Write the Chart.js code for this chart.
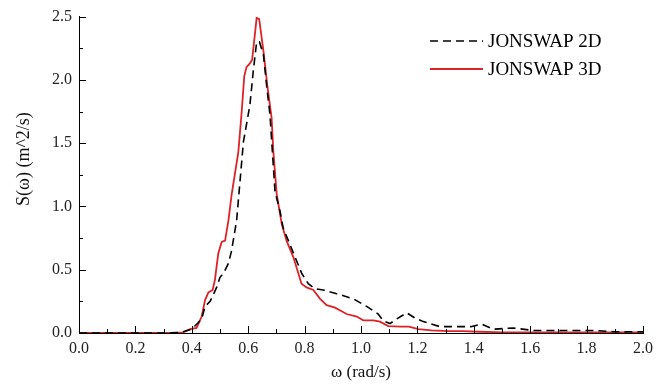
<!DOCTYPE html>
<html>
<head>
<meta charset="utf-8">
<script src="https://cdn.jsdelivr.net/npm/chart.js@4/dist/chart.umd.min.js"></script>
<style>
  body { margin: 0; background: #fff; }
  #plot { display: block; }
</style>
</head>
<body>
<canvas id="plot" width="665" height="385"></canvas>
<script>
var seriesNames = ["JONSWAP 2D", "JONSWAP 3D"];

// omega (rad/s) and S(omega)
var omega2D = [0, 0.30, 0.36, 0.40, 0.435, 0.447, 0.465, 0.488, 0.50, 0.512,
	0.53, 0.541, 0.559, 0.583, 0.606, 0.618, 0.63, 0.64, 0.654, 0.666,
	0.677, 0.695, 0.713, 0.724, 0.748, 0.766, 0.79, 0.813, 0.837, 0.866,
	0.914, 0.973, 1.02, 1.061, 1.079, 1.103, 1.126, 1.162, 1.19, 1.221,
	1.28, 1.33, 1.39, 1.428, 1.469, 1.54, 1.61, 1.68, 1.76, 1.82,
	1.9, 2.0];
var s2D = [0, 0, 0.005, 0.03, 0.11, 0.21, 0.25, 0.36, 0.44, 0.47,
	0.55, 0.65, 0.89, 1.51, 1.80, 2.07, 2.30, 2.30, 2.20, 1.94,
	1.73, 1.12, 0.96, 0.83, 0.70, 0.60, 0.47, 0.39, 0.35, 0.34,
	0.31, 0.27, 0.21, 0.15, 0.095, 0.075, 0.11, 0.16, 0.12, 0.09,
	0.05, 0.05, 0.05, 0.07, 0.03, 0.04, 0.02, 0.02, 0.02, 0.02,
	0.01, 0.01];

var omega3D = [0, 0.34, 0.37, 0.394, 0.417, 0.435, 0.447, 0.459, 0.474, 0.482,
	0.494, 0.506, 0.518, 0.53, 0.541, 0.565, 0.577, 0.586, 0.594, 0.606,
	0.614, 0.63, 0.639, 0.654, 0.668, 0.683, 0.689, 0.701, 0.719, 0.736,
	0.76, 0.778, 0.789, 0.807, 0.831, 0.855, 0.878, 0.908, 0.949, 0.985,
	1.008, 1.044, 1.067, 1.097, 1.14, 1.17, 1.203, 1.25, 1.31, 1.36,
	1.42, 1.5, 1.6, 1.8, 2.0];
var s3D = [0, 0, 0.005, 0.03, 0.04, 0.13, 0.26, 0.32, 0.34, 0.42,
	0.63, 0.72, 0.73, 0.89, 1.09, 1.43, 1.75, 2.03, 2.10, 2.13,
	2.16, 2.49, 2.48, 2.23, 1.95, 1.70, 1.44, 1.10, 0.86, 0.73,
	0.60, 0.47, 0.39, 0.36, 0.34, 0.27, 0.22, 0.20, 0.15, 0.13,
	0.10, 0.10, 0.09, 0.055, 0.05, 0.05, 0.03, 0.02, 0.015, 0.015,
	0.01, 0.005, 0.005, 0.004, 0.004];

var xTicks = [0, 0.2, 0.4, 0.6, 0.8, 1.0, 1.2, 1.4, 1.6, 1.8, 2.0];
var yTicks = [0, 0.5, 1.0, 1.5, 2.0, 2.5];

var serif = "'Liberation Serif', 'Times New Roman', serif";

function pairs(xs, ys) {
	var out = [];
	for (var i = 0; i < xs.length; i++) out.push({x: xs[i], y: ys[i]});
	return out;
}

// inward major + minor ticks, like the original plot
var innerTicks = {
	id: "innerTicks",
	afterDraw: function(chart) {
		var c = chart.ctx, xs = chart.scales.x, ys = chart.scales.y;
		c.save();
		c.strokeStyle = "#000";
		c.lineWidth = 1;
		c.beginPath();
		for (var i = 0; i <= 20; i++) {
			var px = Math.round(xs.getPixelForValue(i * 0.1)) + 0.5;
			var len = i % 2 == 0 ? 7 : 4;
			c.moveTo(px, ys.bottom);
			c.lineTo(px, ys.bottom - len);
		}
		for (var j = 0; j <= 10; j++) {
			var py = Math.round(ys.getPixelForValue(j * 0.25)) + 0.5;
			var l2 = j % 2 == 0 ? 7 : 4;
			c.moveTo(xs.left, py);
			c.lineTo(xs.left + l2, py);
		}
		c.stroke();
		c.restore();
	}
};

// legend in the upper right corner
var cornerLegend = {
	id: "cornerLegend",
	afterDraw: function(chart) {
		var c = chart.ctx;
		c.save();
		c.font = "19px " + serif;
		c.textBaseline = "middle";
		c.textAlign = "left";
		chart.data.datasets.forEach(function(ds, i) {
			var y = 41 + i * 28;
			c.strokeStyle = ds.borderColor;
			c.lineWidth = ds.borderWidth;
			c.setLineDash(ds.borderDash || []);
			c.beginPath();
			c.moveTo(430, y);
			c.lineTo(483, y);
			c.stroke();
			c.setLineDash([]);
			c.fillStyle = "#000";
			c.fillText(ds.label, 488, y + 1);
		});
		c.restore();
	}
};

var ctx = document.getElementById("plot").getContext("2d");
var chart = new Chart(ctx, {
	type: "line",
	data: {
		datasets: [
			{
				label: seriesNames[0],
				data: pairs(omega2D, s2D),
				borderColor: "#000000",
				borderWidth: 1.6,
				borderDash: [8, 5],
				pointRadius: 0,
				tension: 0,
				fill: false
			},
			{
				label: seriesNames[1],
				data: pairs(omega3D, s3D),
				borderColor: "#dc2328",
				borderWidth: 1.8,
				pointRadius: 0,
				tension: 0,
				fill: false
			}
		]
	},
	options: {
		responsive: false,
		animation: false,
		devicePixelRatio: 1,
		layout: {padding: {left: 0, right: 22, top: 15, bottom: 0}},
		plugins: {
			legend: {display: false},
			tooltip: {enabled: false}
		},
		scales: {
			x: {
				type: "linear",
				min: 0,
				max: 2,
				afterBuildTicks: function(scale) {
					scale.ticks = xTicks.map(function(v) { return {value: v}; });
				},
				afterFit: function(scale) { scale.height = 52; },
				grid: {display: false, drawTicks: false},
				border: {display: true, color: "#000", width: 1},
				ticks: {
					color: "#222",
					font: {family: serif, size: 16},
					padding: 6,
					maxRotation: 0,
					callback: function(v) { return Number(v).toFixed(1); }
				},
				title: {
					display: true,
					text: "\u03c9 (rad/s)",
					color: "#111",
					font: {family: serif, size: 17},
					padding: {top: 0, bottom: 2}
				}
			},
			y: {
				type: "linear",
				min: 0,
				max: 2.5,
				afterBuildTicks: function(scale) {
					scale.ticks = yTicks.map(function(v) { return {value: v}; });
				},
				afterFit: function(scale) { scale.width = 79; },
				grid: {display: false, drawTicks: false},
				border: {display: true, color: "#000", width: 1},
				ticks: {
					color: "#222",
					font: {family: serif, size: 16},
					padding: 7,
					callback: function(v) { return Number(v).toFixed(1); }
				},
				title: {
					display: true,
					// leading spaces lift the title a little above the axis middle, as in the original
					text: "       S(\u03c9) (m^2/s)",
					color: "#111",
					font: {family: serif, size: 18},
					padding: {top: 13, bottom: 0}
				}
			}
		}
	},
	plugins: [innerTicks, cornerLegend]
});
</script>
</body>
</html>
